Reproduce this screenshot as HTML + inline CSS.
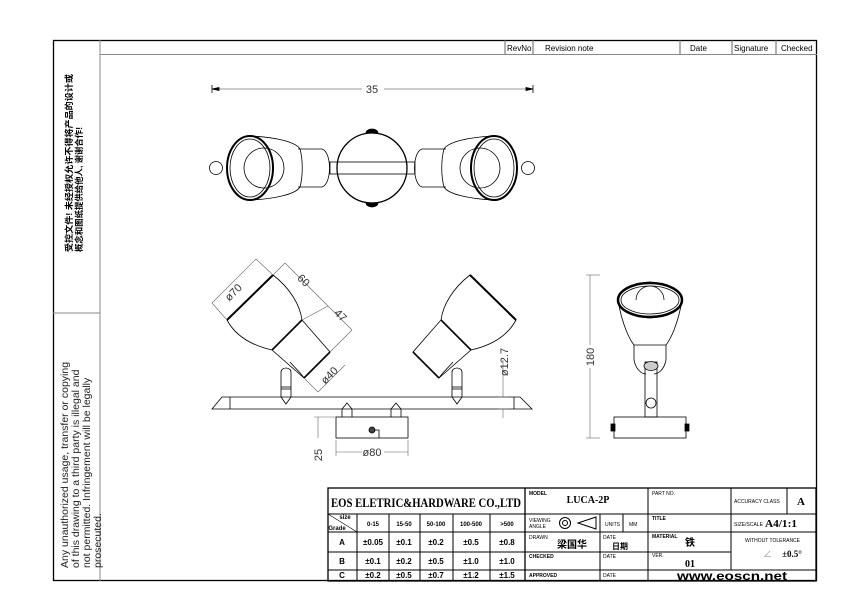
<!DOCTYPE html>
<html><head><meta charset="utf-8"><style>
html,body{margin:0;padding:0;background:#fff;}
svg{display:block;}
text{font-family:"Liberation Sans","Noto Sans CJK SC",sans-serif;}
.b{font-family:"Liberation Serif","Noto Serif CJK SC",serif;font-weight:bold;}
</style></head><body>
<svg width="842" height="595" viewBox="0 0 842 595" xmlns="http://www.w3.org/2000/svg">
<g fill="none" stroke="#000">
<rect x="53.5" y="40.5" width="763" height="540" stroke-width="1.3"/>
<line x1="100" y1="40" x2="100" y2="581" stroke="#888"/>
<line x1="100" y1="54.5" x2="817" y2="54.5" stroke="#888"/>
<line x1="53" y1="313" x2="100" y2="313" stroke="#888"/>
<line x1="505" y1="40" x2="505" y2="54" stroke="#666"/>
<line x1="533" y1="40" x2="533" y2="54" stroke="#666"/>
<line x1="680" y1="40" x2="680" y2="54" stroke="#666"/>
<line x1="732" y1="40" x2="732" y2="54" stroke="#666"/>
<line x1="776" y1="40" x2="776" y2="54" stroke="#666"/>
</g>
<g font-size="8" fill="#000">
<text x="507" y="51">RevNo</text><text x="545" y="51">Revision note</text>
<text x="690" y="51">Date</text><text x="734" y="51">Signature</text><text x="781" y="51">Checked</text>
</g>
<g transform="translate(70,180) rotate(-90)" font-size="8.5" font-weight="bold">
<text x="-72" y="2" textLength="178" lengthAdjust="spacingAndGlyphs">受控文件! 未经授权允许不得将产品的设计或</text>
<text x="-72" y="12" textLength="125" lengthAdjust="spacingAndGlyphs">概念和图纸提供给他人, 谢谢合作!</text>
</g>
<g transform="translate(68,568) rotate(-90)" font-size="10.5" fill="#222">
<text x="0" y="0">Any unauthorized usage, transfer or copying</text>
<text x="0" y="11">of this drawing to a third party is illegal and</text>
<text x="0" y="22">not permitted. Infringement will be legally</text>
<text x="0" y="33">prosecuted.</text>
</g>

<g stroke="#000" fill="none" stroke-width="0.8">
<line x1="212" y1="89" x2="362" y2="89" stroke="#777"/><line x1="384" y1="89" x2="533" y2="89" stroke="#777"/>
<path d="M212 89 l7 -1.5 v3z M533 89 l-7 -1.5 v3z" fill="#000"/>
<line x1="212" y1="85" x2="212" y2="93"/><line x1="533" y1="85" x2="533" y2="93"/>
<g id="tl">
<circle cx="216" cy="168" r="6.5"/>
<ellipse cx="250" cy="168" rx="23" ry="32" stroke-width="2"/>
<ellipse cx="250" cy="168" rx="20" ry="29"/>
<circle cx="264" cy="168" r="20"/>
<path d="M250 136 C275 137 296 142 300 149 C303 160 303 176 300 187 C296 194 275 199 250 200"/>
<path d="M298 149 H322 C332 152 332 184 322 187 H298"/>
</g>
<use href="#tl" transform="translate(744,0) scale(-1,1)"/>
<rect x="330" y="162" width="85" height="12"/>
<circle cx="372" cy="168" r="35" stroke-width="1.3" fill="none"/>
<path d="M366 133 a6 4 0 0 1 12 0z M366 203 a6 4 0 0 0 12 0z" fill="#000"/>
</g>
<text x="372" y="93" font-size="11" text-anchor="middle" fill="#333">35</text>

<g stroke="#000" fill="none" stroke-width="0.8">
<path d="M222 397 H520 L532 409 H212 Z"/>
<line x1="230" y1="397" x2="230" y2="409"/><line x1="514" y1="397" x2="514" y2="409"/>
<rect x="336" y="417" width="72" height="21"/>
<path d="M342 417 V409 L347 403 L352 409 V417 M391 417 V409 L396 403 L401 409 V417"/>
<circle cx="372" cy="430" r="3" fill="#444"/>
<path d="M375 430 h4 v8"/>
<g id="fl">
<path d="M281 397 V372 a5 4 0 0 1 10 0 V397 L286 404 Z"/>
<line x1="281" y1="387" x2="291" y2="387"/><line x1="281" y1="389" x2="291" y2="389"/>
<path d="M227 320 L273 275 C290 288 300 305 302 320 L330 352 L304 378 L272 350 C250 345 235 335 227 320 Z"/>
<line x1="227" y1="320" x2="273" y2="275" stroke-width="2"/>
<line x1="272" y1="350" x2="302" y2="320" stroke-width="1.6"/>
<line x1="304" y1="378" x2="330" y2="352" stroke-width="1.6"/>
<path d="M290 362 C295 368 300 372 304 378"/>
</g>
<use href="#fl" transform="translate(743,0) scale(-1,1)"/>
</g>
<g stroke="#666" fill="none" stroke-width="0.6">
<line x1="212" y1="303" x2="256" y2="259"/><line x1="227" y1="320" x2="212" y2="303"/><line x1="273" y1="275" x2="256" y2="259"/>
<line x1="273" y1="275" x2="285" y2="263"/><line x1="285" y1="263" x2="328" y2="306"/><line x1="328" y1="306" x2="302" y2="320"/>
<line x1="328" y1="306" x2="352" y2="330"/><line x1="330" y1="352" x2="352" y2="330"/>
<line x1="304" y1="378" x2="318" y2="392"/><line x1="318" y1="392" x2="345" y2="365"/>
<line x1="503" y1="360" x2="503" y2="397"/><line x1="503" y1="409" x2="503" y2="418"/>
<line x1="498" y1="397" x2="508" y2="397"/><line x1="498" y1="409" x2="508" y2="409"/>
<line x1="318" y1="417" x2="318" y2="438"/><line x1="314" y1="417" x2="336" y2="417"/>
<line x1="336" y1="440" x2="336" y2="456"/><line x1="408" y1="440" x2="408" y2="456"/>
<line x1="336" y1="452" x2="362" y2="452"/><line x1="384" y1="452" x2="408" y2="452"/>
<line x1="590" y1="275" x2="590" y2="345"/><line x1="590" y1="368" x2="590" y2="438"/>
<line x1="586" y1="275" x2="600" y2="275"/><line x1="586" y1="438" x2="600" y2="438"/>
</g>
<g font-size="11" fill="#333">
<text transform="translate(236,295) rotate(-45)" text-anchor="middle">ø70</text>
<text transform="translate(301,283) rotate(45)" text-anchor="middle">60</text>
<text transform="translate(338,318) rotate(45)" text-anchor="middle">47</text>
<text transform="translate(332,378) rotate(-45)" text-anchor="middle">ø40</text>
<text transform="translate(508,362) rotate(-90)" text-anchor="middle">ø12.7</text>
<text transform="translate(322,455) rotate(-90)" text-anchor="middle">25</text>
<text x="372" y="456" text-anchor="middle">ø80</text>
<text transform="translate(594,357) rotate(-90)" text-anchor="middle">180</text>
</g>

<g stroke="#000" fill="none" stroke-width="0.8">
<path d="M618 300 C622 325 630 340 634 345 V360 C636 370 642 374 646 374 M682 300 C678 325 670 340 666 345 V360 C664 370 658 374 654 374"/>
<line x1="634" y1="345" x2="666" y2="345"/>
<circle cx="650" cy="300" r="18"/>
<ellipse cx="650" cy="300" rx="32" ry="17" stroke-width="2.5" fill="#fff"/>
<ellipse cx="650" cy="300" rx="29" ry="14" fill="#fff"/>
<path d="M636 300 a14 14 0 0 1 28 0"/>
<rect x="645" y="362" width="12" height="55"/>
<ellipse cx="651" cy="366" rx="7" ry="4.5" fill="#ccc"/>
<circle cx="651" cy="403" r="5"/>
<rect x="614" y="417" width="72" height="21"/>
<rect x="611" y="424" width="4" height="7" fill="#000"/><rect x="685" y="424" width="4" height="7" fill="#000"/>
</g>

<g stroke="#000" fill="none">
<rect x="328" y="488" width="488" height="93" stroke-width="1.3"/>
<line x1="328" y1="514" x2="525" y2="514"/><line x1="328" y1="532" x2="525" y2="532"/>
<line x1="328" y1="552" x2="525" y2="552"/><line x1="328" y1="570" x2="525" y2="570"/>
<line x1="357" y1="514" x2="357" y2="581"/><line x1="389" y1="514" x2="389" y2="581"/>
<line x1="420" y1="514" x2="420" y2="581"/><line x1="453" y1="514" x2="453" y2="581"/>
<line x1="490" y1="514" x2="490" y2="581"/>
<line x1="328" y1="514" x2="357" y2="532" stroke-width="0.6"/>
<line x1="525" y1="488" x2="525" y2="581" stroke-width="1.3"/>
<line x1="525" y1="514" x2="816" y2="514"/><line x1="525" y1="532" x2="816" y2="532"/>
<line x1="525" y1="552" x2="731" y2="552"/><line x1="525" y1="570" x2="816" y2="570"/>
<line x1="600" y1="514" x2="600" y2="581"/><line x1="623" y1="514" x2="623" y2="532"/>
<line x1="648" y1="488" x2="648" y2="581"/>
<line x1="731" y1="488" x2="731" y2="570"/><line x1="787" y1="488" x2="787" y2="514"/>
<circle cx="565" cy="523" r="5.5"/><circle cx="565" cy="523" r="2.5"/>
<path d="M578 523 L596 517 V529 Z"/>
</g>
<g fill="#000">
<text class="b" x="331" y="507" font-size="13" textLength="190" lengthAdjust="spacingAndGlyphs">EOS ELETRIC&amp;HARDWARE CO.,LTD</text>
<g font-size="6" font-weight="bold" text-anchor="middle">
<text x="345" y="519">size</text><text x="337" y="530">Grade</text>
<text x="373" y="526">0-15</text><text x="404" y="526">15-50</text><text x="436" y="526">50-100</text><text x="471" y="526">100-500</text><text x="507" y="526">&gt;500</text>
</g>
<g font-size="8" font-weight="bold" text-anchor="middle">
<text x="342" y="545">A</text><text x="373" y="545">±0.05</text><text x="404" y="545">±0.1</text><text x="436" y="545">±0.2</text><text x="471" y="545">±0.5</text><text x="507" y="545">±0.8</text>
<text x="342" y="564">B</text><text x="373" y="564">±0.1</text><text x="404" y="564">±0.2</text><text x="436" y="564">±0.5</text><text x="471" y="564">±1.0</text><text x="507" y="564">±1.0</text>
<text x="342" y="578">C</text><text x="373" y="578">±0.2</text><text x="404" y="578">±0.5</text><text x="436" y="578">±0.7</text><text x="471" y="578">±1.2</text><text x="507" y="578">±1.5</text>
</g>
<g font-size="5">
<text x="529" y="495" font-weight="bold">MODEL</text>
<text x="529" y="522">VIEWING</text><text x="529" y="528">ANGLE</text>
<text x="605" y="526">UNITS</text><text x="629" y="526">MM</text>
<text x="529" y="539">DRAWN</text><text x="603" y="539">DATE</text>
<text x="529" y="558" font-weight="bold">CHECKED</text><text x="603" y="558">DATE</text>
<text x="529" y="577" font-weight="bold">APPROVED</text><text x="603" y="577">DATE</text>
<text x="652" y="495">PART NO.</text>
<text x="652" y="520" font-weight="bold">TITLE</text>
<text x="652" y="538" font-weight="bold">MATERIAL</text>
<text x="652" y="557">VER.</text>
<text x="734" y="503">ACCURACY CLASS</text>
<text x="734" y="526">SIZE/SCALE</text>
<text x="745" y="542">WITHOUT TOLERANCE</text>
</g>
<text class="b" x="588" y="503" font-size="10" text-anchor="middle">LUCA-2P</text>
<text x="572" y="548" font-size="10" font-weight="bold" text-anchor="middle">梁国华</text>
<text x="612" y="549" font-size="8" font-weight="bold">日期</text>
<text x="690" y="546" font-size="10" font-weight="bold" text-anchor="middle">铁</text>
<text class="b" x="690" y="567" font-size="10" text-anchor="middle">01</text>
<text class="b" x="801" y="505" font-size="11" text-anchor="middle">A</text>
<text class="b" x="781" y="527" font-size="10" text-anchor="middle" textLength="32" lengthAdjust="spacingAndGlyphs">A4/1:1</text>
<text class="b" x="792" y="557" font-size="9" text-anchor="middle">±0.5°</text>
<text x="763" y="557" font-size="9" fill="#999">∠</text>
<text x="732" y="580" font-size="12" font-weight="bold" font-family="Liberation Mono,monospace" text-anchor="middle" textLength="110" lengthAdjust="spacingAndGlyphs">www.eoscn.net</text>
</g>
</svg>
</body></html>
